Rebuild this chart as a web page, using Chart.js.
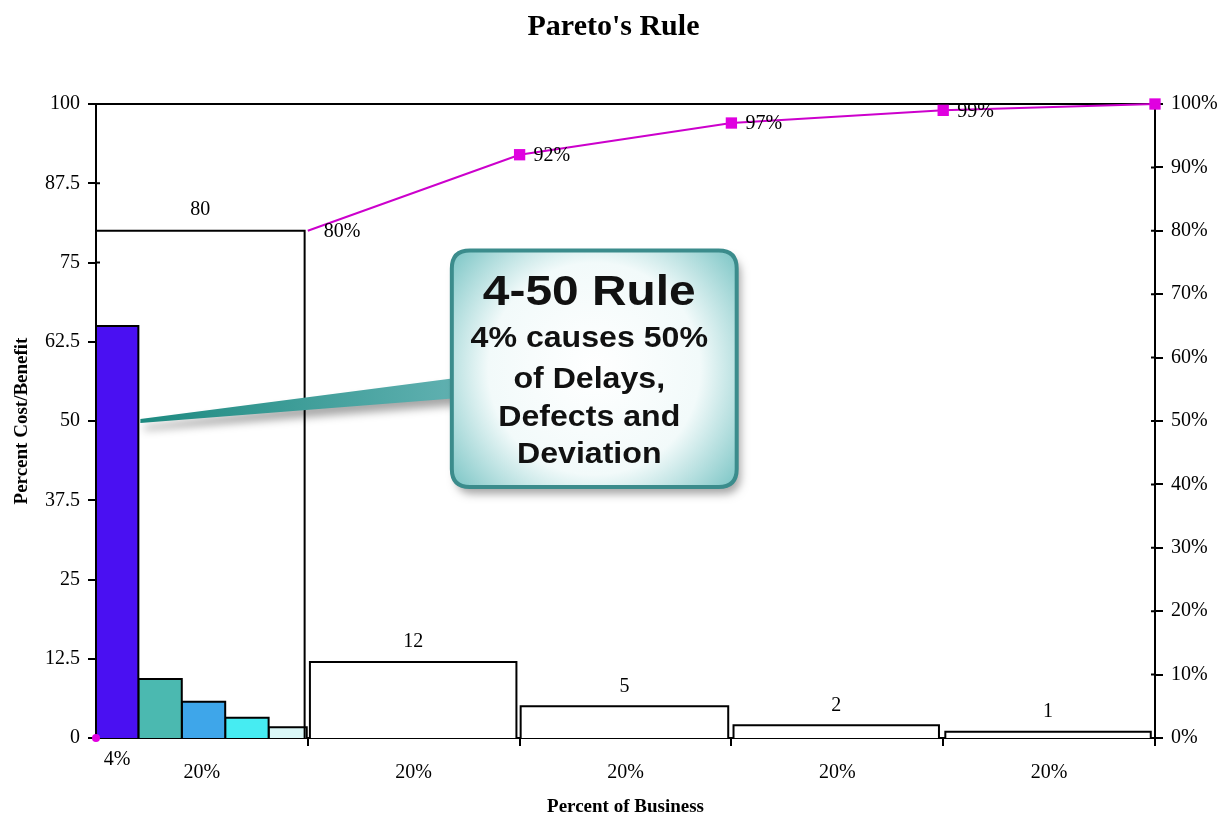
<!DOCTYPE html>
<html><head><meta charset="utf-8">
<script src="https://cdn.jsdelivr.net/npm/chart.js@4"></script>
<style>html,body{margin:0;padding:0;background:#fff;overflow:hidden}</style>
</head><body>
<canvas id="c" width="1227" height="819"></canvas>
<script>
// ---- data ----
const chartTitle = "Pareto's Rule";
const yTitle = 'Percent Cost/Benefit';
const xTitle = 'Percent of Business';
const barStarts = [0, 4, 8.1, 12.2, 16.3, 20.2, 40.1, 60.2, 80.2];
const barEnds   = [4, 8.1, 12.2, 16.3, 19.9, 39.7, 59.7, 79.6, 99.6];
const barValues = [65, 9.3, 5.7, 3.2, 1.7, 12, 5, 2, 1];
const barLabelShown = [false, false, false, false, false, true, true, true, true];
const cumX = [0, 20, 40, 60, 80, 100];
const cumValues = [0, 80, 92, 97, 99, 100];
const cumLabels = ['', '80%', '92%', '97%', '99%', ''];
const refX = 19.7;
const refValue = 80;
const refLabel = '80';
const xLabelValues = [2, 10, 30, 50, 70, 90];
const xLabels = [['4%'], ['', '20%'], ['', '20%'], ['', '20%'], ['', '20%'], ['', '20%']];
const xBoundaryTicks = [20, 40, 60, 80, 100];
const calloutLines = ['4-50 Rule', '4% causes 50%', 'of Delays,', 'Defects and', 'Deviation'];
const calloutTarget = {x: 4, y: 50};

// ---- styles ----
const barFills = ['#4a10f2', '#4bb9b0', '#3ea6ea', '#46ecf2', '#daf7f7', '#ffffff', '#ffffff', '#ffffff', '#ffffff'];
const SERIF = '"Liberation Serif", "Times New Roman", serif';
const SANS = '"Liberation Sans", Arial, sans-serif';
const MAGENTA = '#cc00cc';

const barDatasets = barValues.map((v, i) => ({
  type: 'line',
  data: [{x: barStarts[i], y: 0}, {x: barStarts[i], y: v}, {x: barEnds[i], y: v}, {x: barEnds[i], y: 0}],
  xAxisID: 'x', yAxisID: 'y',
  borderColor: '#000', borderWidth: 2, backgroundColor: barFills[i],
  fill: 'origin', pointRadius: 0, tension: 0, order: 10
}));

const refDataset = {
  type: 'line',
  data: [{x: 0, y: refValue}, {x: refX, y: refValue}, {x: refX, y: 0}],
  xAxisID: 'x', yAxisID: 'y',
  borderColor: '#000', borderWidth: 2, fill: false, pointRadius: 0, tension: 0, order: 5
};

const cumDataset = {
  type: 'line',
  data: cumX.map((xv, i) => ({x: xv, y: cumValues[i]})),
  xAxisID: 'x', yAxisID: 'y2',
  borderColor: MAGENTA, borderWidth: 2, fill: false, tension: 0,
  pointStyle: cumValues.map((v, i) => i === 0 ? 'circle' : 'rect'),
  pointRadius: cumValues.map((v, i) => i === 0 ? 4 : (i === 1 ? 0 : 8)),
  pointBackgroundColor: '#e000e0', pointBorderColor: '#e000e0', pointBorderWidth: 0,
  segment: {borderColor: ctx => ctx.p0DataIndex === 0 ? 'rgba(0,0,0,0)' : undefined},
  clip: false, order: 1
};

function roundRect(ctx, x, y, w, h, r) {
  ctx.beginPath();
  ctx.moveTo(x + r, y);
  ctx.lineTo(x + w - r, y); ctx.quadraticCurveTo(x + w, y, x + w, y + r);
  ctx.lineTo(x + w, y + h - r); ctx.quadraticCurveTo(x + w, y + h, x + w - r, y + h);
  ctx.lineTo(x + r, y + h); ctx.quadraticCurveTo(x, y + h, x, y + h - r);
  ctx.lineTo(x, y + r); ctx.quadraticCurveTo(x, y, x + r, y);
  ctx.closePath();
}

const decorPlugin = {
  id: 'decor',
  beforeDatasetsDraw(chart) {
    const {ctx, chartArea} = chart;
    const {y, y2} = chart.scales;
    ctx.save();
    ctx.strokeStyle = '#000'; ctx.lineWidth = 2;
    ctx.beginPath(); ctx.moveTo(chartArea.left, chartArea.top); ctx.lineTo(chartArea.right, chartArea.top); ctx.stroke();
    // inner halves of the crossing tick marks
    ctx.beginPath();
    y.ticks.forEach(t => { const py = y.getPixelForValue(t.value); ctx.moveTo(chartArea.left, py); ctx.lineTo(chartArea.left + 4, py); });
    y2.ticks.forEach(t => { const py = y2.getPixelForValue(t.value); ctx.moveTo(chartArea.right, py); ctx.lineTo(chartArea.right - 4, py); });
    ctx.stroke();
    ctx.restore();
  },
  afterDatasetsDraw(chart) {
    const {ctx} = chart;
    const {x, y, y2} = chart.scales;
    ctx.save();
    ctx.fillStyle = '#000';
    ctx.font = '20px ' + SERIF;
    ctx.textAlign = 'center'; ctx.textBaseline = 'middle';
    barValues.forEach((v, i) => {
      if (!barLabelShown[i]) return;
      ctx.fillText(String(v), x.getPixelForValue((barStarts[i] + barEnds[i]) / 2), y.getPixelForValue(v) - 20);
    });
    ctx.fillText(refLabel, x.getPixelForValue(refX / 2), y.getPixelForValue(refValue) - 21);
    ctx.textAlign = 'left';
    cumValues.forEach((v, i) => {
      if (!cumLabels[i]) return;
      ctx.fillText(cumLabels[i], x.getPixelForValue(cumX[i]) + (i === 1 ? 16 : 14), y2.getPixelForValue(v) + 1);
    });

    // callout
    const tipX = x.getPixelForValue(calloutTarget.x) + 2;
    const tipY = y.getPixelForValue(calloutTarget.y);
    const bl = x.getPixelForValue(33.6), br = x.getPixelForValue(60.5);
    const bt = y.getPixelForValue(76.9), bb = y.getPixelForValue(39.6);
    const j1 = y.getPixelForValue(56.8), j2 = y.getPixelForValue(53.6);

    ctx.save();
    ctx.shadowColor = 'rgba(0,0,0,0.35)'; ctx.shadowBlur = 8; ctx.shadowOffsetX = 4; ctx.shadowOffsetY = 7;
    const pg = ctx.createLinearGradient(tipX, 0, bl, 0);
    pg.addColorStop(0, '#1d8a80'); pg.addColorStop(1, '#5fb0b0');
    ctx.fillStyle = pg;
    ctx.beginPath();
    ctx.moveTo(tipX, tipY - 2); ctx.lineTo(bl + 4, j1); ctx.lineTo(bl + 4, j2); ctx.lineTo(tipX, tipY + 2); ctx.closePath();
    ctx.fill();
    roundRect(ctx, bl, bt, br - bl, bb - bt, 18);
    ctx.fillStyle = '#ffffff';
    ctx.fill();
    ctx.restore();

    const cx = (bl + br) / 2, cy = (bt + bb) / 2;
    const rg = ctx.createRadialGradient(cx, cy, 0, cx, cy, Math.max(br - bl, bb - bt) * 0.62);
    rg.addColorStop(0, '#ffffff'); rg.addColorStop(0.6, '#f2fafa'); rg.addColorStop(1, '#86caca');
    roundRect(ctx, bl, bt, br - bl, bb - bt, 18);
    ctx.fillStyle = rg; ctx.fill();
    ctx.lineWidth = 4; ctx.strokeStyle = '#3b8c8c'; ctx.stroke();

    ctx.fillStyle = '#111';
    ctx.textAlign = 'center'; ctx.textBaseline = 'middle';
    const tx = cx - 5;
    const ys = [293, 338, 380, 418, 455].map(v => bt + (v - 250) * (bb - bt) / 237);
    calloutLines.forEach((t, i) => {
      ctx.save();
      ctx.translate(tx, ys[i]);
      if (i === 0) { ctx.font = 'bold 42px ' + SANS; ctx.scale(1.14, 1); }
      else { ctx.font = 'bold 30px ' + SANS; ctx.scale(1.07, 1); }
      ctx.fillText(t, 0, 0);
      ctx.restore();
    });
    ctx.restore();
  }
};

const tickFont = {family: SERIF, size: 20};
const titleFont = {family: SERIF, size: 19, weight: 'bold'};

new Chart(document.getElementById('c'), {
  type: 'line',
  data: {datasets: [cumDataset, refDataset, ...barDatasets]},
  options: {
    responsive: false, animation: false, devicePixelRatio: 1,
    layout: {padding: 0},
    plugins: {
      legend: {display: false}, tooltip: {enabled: false},
      title: {display: true, text: chartTitle, color: '#000',
        font: {family: SERIF, size: 30, weight: 'bold', lineHeight: 1.2},
        padding: {top: 9, bottom: 59}}
    },
    scales: {
      x: {
        type: 'linear', position: 'bottom', axis: 'x', min: 0, max: 100, weight: 1,
        afterBuildTicks: s => { s.ticks = xBoundaryTicks.map(v => ({value: v})); },
        afterFit: s => { s.height = 10; },
        ticks: {display: false},
        grid: {display: true, drawOnChartArea: false, drawTicks: true, tickLength: 8, color: '#000', lineWidth: 2},
        border: {display: true, color: '#000', width: 2}
      },
      xl: {
        type: 'linear', position: 'bottom', axis: 'x', min: 0, max: 100, weight: 2,
        afterBuildTicks: s => { s.ticks = xLabelValues.map(v => ({value: v})); },
        afterFit: s => { s.height = 71; },
        ticks: {font: {family: SERIF, size: 20, lineHeight: 0.65}, color: '#000', padding: 5,
          autoSkip: false, maxRotation: 0, callback: (v, i) => xLabels[i]},
        grid: {display: false, drawTicks: false},
        border: {display: false},
        title: {display: true, text: xTitle, color: '#000', font: titleFont, padding: {top: 0, bottom: 1}}
      },
      y: {
        type: 'linear', position: 'left', min: 0, max: 100,
        afterFit: s => { s.width = 96; },
        ticks: {stepSize: 12.5, font: tickFont, color: '#000', padding: 8},
        grid: {drawOnChartArea: false, drawTicks: true, tickLength: 8, color: '#000', lineWidth: 2},
        border: {display: true, color: '#000', width: 2},
        title: {display: true, text: yTitle, color: '#000', font: titleFont, padding: {top: 11, bottom: 0}}
      },
      y2: {
        type: 'linear', position: 'right', min: 0, max: 100,
        afterFit: s => { s.width = 72; },
        ticks: {stepSize: 10, font: tickFont, color: '#000', padding: 8, callback: v => v + '%'},
        grid: {drawOnChartArea: false, drawTicks: true, tickLength: 8, color: '#000', lineWidth: 2},
        border: {display: true, color: '#000', width: 2}
      }
    }
  },
  plugins: [decorPlugin]
});
</script>
</body></html>
